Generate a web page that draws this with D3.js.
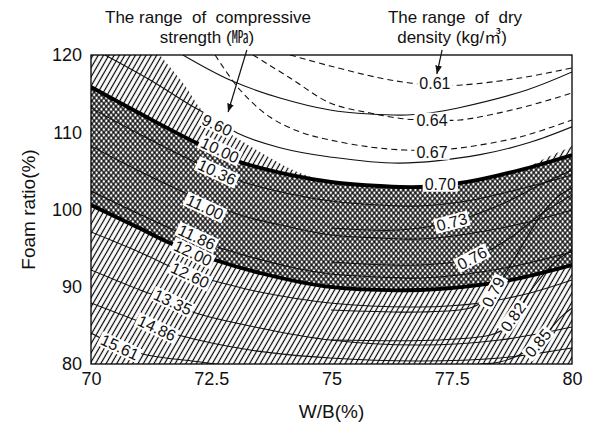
<!DOCTYPE html>
<html><head><meta charset="utf-8">
<script src="https://cdn.jsdelivr.net/npm/d3@7"></script>
<style>
body{margin:0;background:#fff}
svg{display:block}
text{font-family:"Liberation Sans",Arial,"Noto Sans CJK KR",sans-serif;fill:#111}
</style>
</head><body>
<svg id="chart" width="589" height="424"></svg>
<script>
// ---------- data (W/B %, Foam ratio %) ----------
const xTicks = [70, 72.5, 75, 77.5, 80];
const yTicks = [80, 90, 100, 110, 120];

// compressive strength contours (MPa)
const s960  = [[70.29,120],[71.23,116.76],[72.06,113.53],[72.62,111.6],[73.04,109.9],[73.93,108.0],[74.97,106.8],[76.42,106.0],[78.09,107.1],[79.13,108.7],[80,110.7]];
const s920  = [[71.91,120],[72.89,116.76],[73.93,114.43],[74.97,112.88],[75.8,112.36],[76.57,112.23],[77.05,112.49],[77.63,113.14],[79.06,115.47],[80,117.8]];
const s1036 = [[70,113.14],[71,109.77],[72.2,106.02],[73.1,103.69],[74.14,102.01],[74.99,101.10],[76.01,100.58],[76.84,100.45],[77.82,101.10],[78.92,102.65],[80,104.47]];
const s1100 = [[70,108.22],[71,104.98],[72.2,101.49],[73.1,99.29],[74.14,97.73],[74.99,96.70],[76.01,96.31],[76.84,96.18],[77.82,96.83],[78.92,98.12],[80,99.94]];
const s1186 = [[70,102.39],[71,99.42],[72.2,96.05],[73.1,94.24],[74.14,92.56],[74.99,91.65],[76.01,91.26],[76.84,91.13],[77.82,91.65],[78.92,92.82],[80,94.50]];
const s1260 = [[70,97.09],[71,94.5],[72.06,91.52],[72.41,91.0],[73.51,89.32],[74.97,87.9],[76.84,87.38],[78.09,87.9],[79.13,89.19],[80,90.87]];
const s1335 = [[70,92.17],[71.02,89.58],[71.7,88.03],[72.12,86.73],[73.51,84.66],[74.97,83.11],[76.84,82.46],[78.5,83.11],[80,84.79]];
const s1486 = [[70,87.9],[71.37,84.66],[71.81,83.75],[73.31,81.81],[74.97,80.78],[76.84,80.39],[78.5,80.78],[80,82.07]];
const s1561 = [[70,84.01],[70.6,82.2],[71.16,81.17],[72.27,80.26],[73.1,79.6]];

// boundary lines of the overlapping range (thick)
const upperBound = [[70,115.86],[71,112.49],[72.2,108.61],[73.1,106.15],[74.14,104.47],[74.99,103.56],[76.01,103.04],[76.84,102.91],[77.82,103.56],[78.92,105.11],[80,107.06]];
const lowerBound = [[70,100.58],[71,97.6],[71.64,95.66],[72.58,93.46],[73.51,91.78],[74.97,89.97],[76.84,89.58],[78.09,90.23],[78.92,91.13],[80,92.82]];

// dry density contours
const d061 = [[74.14,120],[74.97,118.58],[76.01,117.02],[76.63,116.38],[77.17,116.12],[77.71,116.12],[78.92,117.02],[80,118.32]];
const d064 = [[73.37,120],[74.14,117.02],[74.97,113.79],[75.8,112.49],[76.53,111.72],[77.17,111.6],[77.67,111.59],[78.92,113.14],[80,115.08]];
const d067 = [[72.58,120],[73.1,115.47],[73.72,111.97],[74.35,110.03],[74.97,109.0],[75.8,108.09],[76.53,107.7],[77.17,107.7],[77.67,107.96],[78.92,109.39],[80,111.59]];
const d073 = [[74.99,97.6],[76.42,97.35],[77.5,98.38],[78.5,100.58],[79.33,103.17],[80,105.11]];
const d076 = [[74.99,93.2],[76.84,92.82],[77.92,93.72],[78.71,96.31],[79.33,99.29],[80,101.88]];
const d079 = [[74.99,86.99],[76.84,86.73],[77.88,87.25],[78.19,88.28],[78.5,90.61],[78.81,93.72],[79.13,97.09],[79.44,99.94],[79.75,101.88],[80,102.78]];
const d082 = [[74.99,83.11],[77.26,83.11],[78.3,83.75],[78.61,84.66],[78.92,87.38],[79.23,90.23],[79.65,93.2],[80,94.76]];
const d085 = [[78.09,80],[78.5,80.26],[79.02,81.55],[79.44,83.75],[79.75,85.95],[80,87.25]];

// upper edge of the compressive-strength range (hatched)
const strengthEdge = [[71.43,120],[71.95,116.1],[72.27,113.1],[72.62,110.9],[73.1,109.0],[73.72,106.7],[74.28,104.9],[74.99,103.56],[76.01,103.04],[76.84,102.91],[77.82,103.56],[78.92,105.11],[79.5,106.8],[80,108.2]];

// contour labels
const strengthText = ["9.60","10.00","10.36","11.00","11.86","12.00","12.60","13.35","14.86","15.61"];
const strengthPos  = [[72.62,110.94],[72.68,107.70],[72.62,104.85],[72.37,100.32],[72.2,96.44],[72.12,94.37],[72.06,91.52],[71.7,88.03],[71.37,84.66],[70.6,82.2]];
const densityText  = ["0.61","0.64","0.67","0.70","0.73","0.76","0.79","0.82","0.85"];
const densityPos   = [[77.15,116.38],[77.09,111.59],[77.09,107.44],[77.26,103.3],[77.5,98.38],[77.92,93.72],[78.36,89.32],[78.77,86.08],[79.29,82.72]];
const densityAngle = [0,0,0,0,-15,-28,-62,-55,-50];
const strengthAngle = 25;

// annotation arrows
const arrowStrength = [[73.24,120.65],[72.85,112.62]];
const arrowDensity  = [[77.3,120.65],[77.19,117.54]];

// ---------- drawing ----------
const W = 589, H = 424;
const m = {l:91, r:17, t:55, b:60};
const svg = d3.select("#chart");
const x = d3.scaleLinear().domain([70,80]).range([m.l, W-m.r]);
const y = d3.scaleLinear().domain([80,120]).range([H-m.b, m.t]);

const defs = svg.append("defs");
defs.append("clipPath").attr("id","clip").append("rect")
  .attr("x",x(70)).attr("y",y(120)).attr("width",x(80)-x(70)).attr("height",y(80)-y(120));
function hatch(id, angle, sp, sw){
  const p = defs.append("pattern").attr("id",id).attr("patternUnits","userSpaceOnUse")
    .attr("width",sp).attr("height",10).attr("patternTransform",`rotate(${angle})`);
  p.append("line").attr("x1",sp/2).attr("x2",sp/2).attr("y1",0).attr("y2",10)
    .attr("stroke","#000").attr("stroke-width",sw);
}
hatch("h1",30,4.6,1.2);
hatch("x1",40,3.7,1.25);
hatch("x2",-40,3.7,1.25);
const mk = defs.append("marker").attr("id","arr").attr("viewBox","0 0 10 10").attr("refX",10).attr("refY",5)
  .attr("markerWidth",7).attr("markerHeight",7).attr("orient","auto-start-reverse");
mk.append("path").attr("d","M0,1L10,5L0,9Z").attr("fill","#111");

const g = svg.append("g").attr("clip-path","url(#clip)");
const line = d3.line().x(d=>x(d[0])).y(d=>y(d[1])).curve(d3.curveCatmullRom.alpha(0.5));
const lineRev = pts => "L" + line(pts.slice().reverse()).slice(1);

// hatched strength range
const hatchD = line(strengthEdge) + `L${x(80)},${y(80)}L${x(70)},${y(80)}L${x(70)},${y(120)}Z`;
g.append("path").attr("d",hatchD).attr("fill","url(#h1)");

// cross-hatched overlap
const crossD = line(upperBound) + lineRev(lowerBound) + "Z";
g.append("path").attr("d",crossD).attr("fill","#fff");
g.append("path").attr("d",crossD).attr("fill","url(#x1)");
g.append("path").attr("d",crossD).attr("fill","url(#x2)");

// thin solid contours
[s920,s960,s1036,s1100,s1186,s1260,s1335,s1486,s1561,d073,d076,d079,d082,d085].forEach(c=>{
  g.append("path").attr("d",line(c)).attr("fill","none").attr("stroke","#111").attr("stroke-width",1.1);
});
// dashed density contours
[d061,d064,d067].forEach(c=>{
  g.append("path").attr("d",line(c)).attr("fill","none").attr("stroke","#111").attr("stroke-width",1.1).attr("stroke-dasharray","6,4");
});
// thick bounds
[upperBound,lowerBound].forEach(c=>{
  g.append("path").attr("d",line(c)).attr("fill","none").attr("stroke","#000").attr("stroke-width",3.8);
});

// labels
function label(t, p, a){
  const lg = g.append("g").attr("transform",`translate(${x(p[0])},${y(p[1])}) rotate(${a})`);
  const tx = lg.append("text").attr("text-anchor","middle").attr("dy","0.36em")
    .style("font-size","16px").text(t);
  const bb = tx.node().getBBox();
  lg.insert("rect","text").attr("x",bb.x-2).attr("y",bb.y+1).attr("width",bb.width+4).attr("height",bb.height-2).attr("fill","#fff");
}
strengthText.forEach((t,i)=>label(t,strengthPos[i],strengthAngle));
densityText.forEach((t,i)=>label(t,densityPos[i],densityAngle[i]));

// frame
svg.append("rect").attr("x",x(70)).attr("y",y(120)).attr("width",x(80)-x(70)).attr("height",y(80)-y(120))
  .attr("fill","none").attr("stroke","#000").attr("stroke-width",1.3);

// axes
const ax = svg.append("g").attr("transform",`translate(0,${y(80)})`)
  .call(d3.axisBottom(x).tickValues(xTicks).tickSize(0).tickPadding(8).tickFormat(d=>d));
const ay = svg.append("g").attr("transform",`translate(${x(70)},0)`)
  .call(d3.axisLeft(y).tickValues(yTicks).tickSize(0).tickPadding(9));
[ax,ay].forEach(a=>{a.select(".domain").remove(); a.selectAll("text").style("font-size","18px").attr("fill","#111").style("font-family","'Liberation Sans',Arial,sans-serif");});

svg.append("text").attr("x",(x(70)+x(80))/2).attr("y",418).attr("text-anchor","middle").style("font-size","19px").text("W/B(%)");
svg.append("text").attr("transform",`translate(35,${(y(80)+y(120))/2}) rotate(-90)`).attr("text-anchor","middle").style("font-size","19px").text("Foam ratio(%)");

// titles
const tl = [["The range  of  compressive",208,23],["strength (㎫)",207,43],["The range  of  dry",455,23],["density (kg/㎥)",452,43]];
tl.forEach(d=>svg.append("text").attr("x",d[1]).attr("y",d[2]).attr("text-anchor","middle").style("font-size","17px").style("white-space","pre").text(d[0]));

// arrows
[arrowStrength, arrowDensity].forEach(a=>{
  svg.append("line").attr("x1",x(a[0][0])).attr("y1",y(a[0][1])).attr("x2",x(a[1][0])).attr("y2",y(a[1][1]))
    .attr("stroke","#111").attr("stroke-width",1.2).attr("marker-end","url(#arr)");
});
</script>
</body></html>
